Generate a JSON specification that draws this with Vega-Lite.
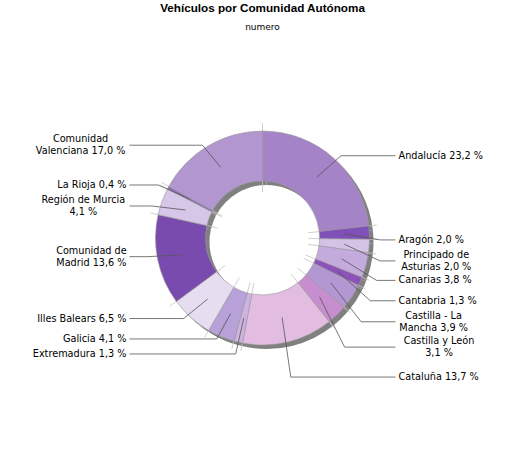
{
  "$schema": "https://vega.github.io/schema/vega-lite/v6.json",
  "width": 525,
  "height": 400,
  "padding": {"top": 3, "left": 0, "right": 0, "bottom": 0},
  "background": "white",
  "title": {
    "text": "Vehículos por Comunidad Autónoma",
    "subtitle": "numero",
    "font": "Liberation Sans",
    "fontSize": 11.7,
    "fontWeight": "bold",
    "color": "#000000",
    "subtitleFont": "DejaVu Sans",
    "subtitleFontSize": 9,
    "subtitleColor": "#000000",
    "subtitlePadding": 8,
    "anchor": "middle",
    "offset": 6
  },
  "data": {
    "values": [
      {"orden": 1, "comunidad": "Andalucía", "pct": 23.2, "etiqueta": "Andalucía 23,2 %"},
      {"orden": 2, "comunidad": "Aragón", "pct": 2.0, "etiqueta": "Aragón 2,0 %"},
      {"orden": 3, "comunidad": "Principado de Asturias", "pct": 2.0, "etiqueta": "Principado de\nAsturias 2,0 %"},
      {"orden": 4, "comunidad": "Canarias", "pct": 3.8, "etiqueta": "Canarias 3,8 %"},
      {"orden": 5, "comunidad": "Cantabria", "pct": 1.3, "etiqueta": "Cantabria 1,3 %"},
      {"orden": 6, "comunidad": "Castilla - La Mancha", "pct": 3.9, "etiqueta": "Castilla - La\nMancha 3,9 %"},
      {"orden": 7, "comunidad": "Castilla y León", "pct": 3.1, "etiqueta": "Castilla y León\n3,1 %"},
      {"orden": 8, "comunidad": "Cataluña", "pct": 13.7, "etiqueta": "Cataluña 13,7 %"},
      {"orden": 9, "comunidad": "Extremadura", "pct": 1.3, "etiqueta": "Extremadura 1,3 %"},
      {"orden": 10, "comunidad": "Galicia", "pct": 4.1, "etiqueta": "Galicia 4,1 %"},
      {"orden": 11, "comunidad": "Illes Balears", "pct": 6.5, "etiqueta": "Illes Balears 6,5 %"},
      {"orden": 12, "comunidad": "Comunidad de Madrid", "pct": 13.6, "etiqueta": "Comunidad de\nMadrid 13,6 %"},
      {"orden": 13, "comunidad": "Región de Murcia", "pct": 4.1, "etiqueta": "Región de Murcia\n4,1 %"},
      {"orden": 14, "comunidad": "La Rioja", "pct": 0.4, "etiqueta": "La Rioja 0,4 %"},
      {"orden": 15, "comunidad": "Comunidad Valenciana", "pct": 17.0, "etiqueta": "Comunidad\nValenciana 17,0 %"}
    ]
  },
  "transform": [
    {"window": [{"op": "sum", "field": "pct", "as": "fin"}], "sort": [{"field": "orden"}], "frame": [null, 0]},
    {"calculate": "datum.fin - datum.pct", "as": "ini"},
    {"calculate": "(datum.ini + datum.fin) / 200 * 2 * PI", "as": "a"},
    {"calculate": "datum.ini / 100 * 2 * PI", "as": "b"},
    {"calculate": "datum.a < PI ? 'der' : 'izq'", "as": "lado"},
    {"calculate": "indexof(datum.etiqueta, '\\n') >= 0 ? 2 : 1", "as": "nl"},
    {"calculate": "datum.lado == 'der' ? -(cos(datum.a) > 0 ? 121 : 135) * cos(datum.a) + 8 : -(cos(datum.a) > 0 ? 102 : 115) * cos(datum.a) - 5", "as": "y0"},
    {
      "window": [
        {"op": "lag", "field": "y0", "as": "py"},
        {"op": "lag", "field": "nl", "as": "pnl"}
      ],
      "groupby": ["lado"],
      "sort": [{"field": "y0", "order": "ascending"}]
    },
    {"calculate": "datum.py == null ? datum.y0 : max(datum.y0, datum.py + (datum.pnl + datum.nl) * 6 + 3)", "as": "ly"},
    {"calculate": "datum.lado == 'der' ? 133 : -133", "as": "lx"}
  ],
  "encoding": {
    "x": {"type": "quantitative", "scale": {"domain": [-262.5, 262.5], "nice": false, "zero": false}, "axis": null},
    "y": {"type": "quantitative", "scale": {"domain": [-200, 200], "nice": false, "zero": false, "reverse": true}, "axis": null}
  },
  "layer": [
    {
      "mark": {"type": "arc", "outerRadius": 107, "innerRadius": 57, "color": "#808080"},
      "encoding": {
        "x": {"datum": 4, "type": "quantitative"},
        "y": {"datum": 4, "type": "quantitative"},
        "theta": {"field": "ini", "type": "quantitative", "scale": {"domain": [0, 100]}},
        "theta2": {"field": "fin"}
      }
    },
    {
      "transform": [
        {"calculate": "[1, 2]", "as": "k"},
        {"flatten": ["k"]},
        {"calculate": "(datum.k == 1 ? 46 : 115) * sin(datum.b)", "as": "bx"},
        {"calculate": "-(datum.k == 1 ? 46 : 115) * cos(datum.b)", "as": "by"}
      ],
      "mark": {"type": "line", "color": "#c4c4c4", "strokeWidth": 0.8},
      "encoding": {
        "x": {"field": "bx"},
        "y": {"field": "by"},
        "detail": {"field": "comunidad"},
        "order": {"field": "k"}
      }
    },
    {
      "mark": {"type": "arc", "outerRadius": 107, "innerRadius": 57, "stroke": "#9a9a9a", "strokeWidth": 0.6},
      "encoding": {
        "x": {"datum": 0, "type": "quantitative"},
        "y": {"datum": 0, "type": "quantitative"},
        "theta": {"field": "ini", "type": "quantitative", "scale": {"domain": [0, 100]}},
        "theta2": {"field": "fin"},
        "color": {
          "field": "comunidad",
          "type": "nominal",
          "legend": null,
          "scale": {
            "domain": ["Andalucía", "Aragón", "Principado de Asturias", "Canarias", "Cantabria", "Castilla - La Mancha", "Castilla y León", "Cataluña", "Extremadura", "Galicia", "Illes Balears", "Comunidad de Madrid", "Región de Murcia", "La Rioja", "Comunidad Valenciana"],
            "range": ["#a483c6", "#7f50b7", "#d5c3e6", "#c4abde", "#8c52ba", "#b297d2", "#c78ecf", "#e2bde1", "#cdb3e2", "#b8a0d8", "#e6ddf0", "#7a4bae", "#d6c6e8", "#8e6bb8", "#b196cf"]
          }
        }
      }
    },
    {
      "transform": [
        {"calculate": "[1, 2, 3]", "as": "k"},
        {"flatten": ["k"]},
        {"calculate": "datum.k == 1 ? 82 * sin(datum.a) : datum.k == 2 ? 118 * sin(datum.a) : datum.lx", "as": "px"},
        {"calculate": "datum.k == 1 ? -82 * cos(datum.a) : datum.ly", "as": "pyl"}
      ],
      "mark": {"type": "line", "color": "#555555", "strokeWidth": 0.8},
      "encoding": {
        "x": {"field": "px"},
        "y": {"field": "pyl"},
        "detail": {"field": "comunidad"},
        "order": {"field": "k"}
      }
    },
    {
      "transform": [{"filter": "datum.lado == 'der' && datum.nl == 1"}],
      "mark": {"type": "text", "align": "left", "baseline": "middle", "dx": 3, "font": "DejaVu Sans", "fontSize": 9.7, "color": "#000000"},
      "encoding": {
        "x": {"field": "lx"},
        "y": {"field": "ly"},
        "text": {"field": "etiqueta"}
      }
    },
    {
      "transform": [{"filter": "datum.lado == 'izq' && datum.nl == 1"}],
      "mark": {"type": "text", "align": "right", "baseline": "middle", "dx": -3, "font": "DejaVu Sans", "fontSize": 9.7, "color": "#000000"},
      "encoding": {
        "x": {"field": "lx"},
        "y": {"field": "ly"},
        "text": {"field": "etiqueta"}
      }
    },
    {
      "transform": [
        {"filter": "datum.nl == 2"},
        {"calculate": "split(datum.etiqueta, '\\n')", "as": "lineas"},
        {"calculate": "max(length(datum.lineas[0]), length(datum.lineas[1])) * 5.4", "as": "ancho"},
        {"calculate": "datum.lx + (datum.lado == 'der' ? 1 : -1) * (datum.ancho / 2 + 3)", "as": "tx"},
        {"calculate": "datum.ly - 6", "as": "ty"}
      ],
      "mark": {"type": "text", "align": "center", "baseline": "middle", "font": "DejaVu Sans", "fontSize": 9.7, "lineBreak": "\n", "lineHeight": 12, "color": "#000000"},
      "encoding": {
        "x": {"field": "tx"},
        "y": {"field": "ty"},
        "text": {"field": "etiqueta"}
      }
    }
  ],
  "config": {"view": {"stroke": null}}
}
